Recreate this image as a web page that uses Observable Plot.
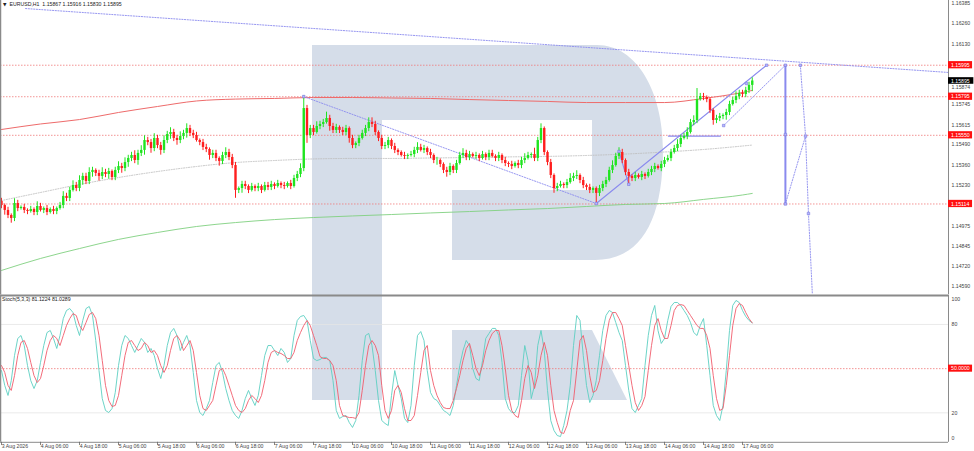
<!DOCTYPE html>
<html><head><meta charset="utf-8">
<script src="https://cdn.jsdelivr.net/npm/d3@7"></script>
<script src="https://cdn.jsdelivr.net/npm/@observablehq/plot@0.6"></script>
<style>
html,body{margin:0;padding:0;background:#fff}
body{width:974px;height:451px;overflow:hidden;position:relative;font-family:"Liberation Sans",Arial,sans-serif}
#logo,#main,#stoch{position:absolute;left:0}
#logo{top:0}
#main{top:0}
#stoch{top:294px}
</style></head><body>
<svg id="logo" width="974" height="451">
<path fill="#d5dde9" d="M312,45 H597 C637,45 663,92 663,150 C663,222 640,260 595,260 H452 V190 H592 V120 H382 V400 H312 Z"/>
<path fill="#d5dde9" d="M452,330 H592 L627,400 H452 Z"/>
</svg>
<div id="main"></div>
<div id="stoch"></div>
<script>
// ---------- DATA ----------
const symbolHeader = "EURUSD,H1  1.15867 1.15916 1.15830 1.15895";
const stochHeader = "Stoch(5,3,3) 81.1224 81.0289";
const firstOpen = 1.15130;
const closes = [
1.15104,1.15073,1.15041,1.15022,1.15117,1.15085,1.15092,1.15073,1.15066,1.15079,1.15060,1.15098,
1.15073,1.15085,1.15060,1.15079,1.15066,1.15085,1.15104,1.15162,1.15149,1.15200,1.15231,1.15212,
1.15263,1.15289,1.15257,1.15314,1.15327,1.15308,1.15289,1.15314,1.15301,1.15320,1.15282,1.15327,
1.15352,1.15339,1.15377,1.15403,1.15422,1.15390,1.15435,1.15454,1.15517,1.15504,1.15466,1.15530,
1.15485,1.15454,1.15517,1.15555,1.15568,1.15530,1.15517,1.15542,1.15562,1.15593,1.15562,1.15549,
1.15517,1.15504,1.15473,1.15460,1.15422,1.15435,1.15403,1.15384,1.15422,1.15441,1.15409,1.15358,
1.15200,1.15212,1.15238,1.15225,1.15200,1.15225,1.15212,1.15225,1.15200,1.15231,1.15219,1.15238,
1.15225,1.15244,1.15231,1.15225,1.15244,1.15225,1.15276,1.15301,1.15339,1.15720,1.15549,1.15593,
1.15568,1.15606,1.15619,1.15631,1.15657,1.15606,1.15581,1.15600,1.15581,1.15568,1.15593,1.15530,
1.15485,1.15498,1.15530,1.15562,1.15593,1.15631,1.15619,1.15568,1.15530,1.15479,1.15485,1.15517,
1.15479,1.15454,1.15441,1.15422,1.15416,1.15422,1.15428,1.15454,1.15473,1.15454,1.15466,1.15441,
1.15422,1.15390,1.15390,1.15365,1.15327,1.15314,1.15352,1.15327,1.15371,1.15422,1.15435,1.15409,
1.15428,1.15416,1.15422,1.15403,1.15428,1.15409,1.15435,1.15416,1.15403,1.15422,1.15390,1.15371,
1.15365,1.15352,1.15371,1.15358,1.15390,1.15403,1.15422,1.15428,1.15403,1.15517,1.15593,1.15441,
1.15377,1.15295,1.15212,1.15225,1.15238,1.15231,1.15250,1.15276,1.15289,1.15295,1.15263,1.15231,
1.15219,1.15200,1.15212,1.15181,1.15212,1.15238,1.15263,1.15327,1.15358,1.15416,1.15441,1.15390,
1.15314,1.15289,1.15276,1.15295,1.15282,1.15301,1.15289,1.15314,1.15333,1.15352,1.15339,1.15365,
1.15390,1.15403,1.15441,1.15466,1.15492,1.15530,1.15542,1.15568,1.15631,1.15644,1.15777,1.15796,
1.15790,1.15777,1.15708,1.15644,1.15657,1.15669,1.15676,1.15695,1.15746,1.15771,1.15796,1.15816,
1.15809,1.15835,1.15867,1.15895];
const upperWickPips = [
2,1,2,1,3,2,1,2,1,2,1,3, 2,1,2,1,2,1,2,3,2,2,3,2, 3,2,2,3,2,1,2,3,2,2,1,2,
3,2,3,2,2,3,2,3,3,2,2,3, 2,2,3,2,3,2,2,3,2,3,2,2, 2,1,2,2,1,2,2,1,2,3,2,2,
2,1,2,2,1,2,1,2,1,2,2,2, 1,2,1,2,1,2,2,2,3,8,2,2, 2,3,2,2,4,2,2,2,1,2,2,1,
2,1,2,2,2,3,3,2,1,2,2,2, 1,2,1,1,2,1,2,2,3,2,2,1, 2,1,2,1,1,2,2,1,2,2,3,2,
2,1,2,1,2,1,2,2,1,2,1,2, 1,2,1,2,2,3,2,1,4,2,3,1, 1,2,1,2,2,1,2,3,2,3,1,2,
1,2,1,1,2,2,2,2,3,2,3,2, 1,2,1,2,1,2,1,2,2,2,1,2, 2,2,2,2,3,2,2,3,2,3,7,2,
2,1,1,1,2,2,1,2,2,2,3,2, 2,2,2,2];
const lowerWickPips = [
2,3,2,3,2,2,1,2,2,1,2,2, 1,2,2,1,2,2,1,2,2,2,1,2, 2,3,2,2,3,2,3,2,2,3,2,2,
2,3,2,3,2,2,3,2,3,2,3,2, 2,3,2,2,3,2,3,2,2,3,2,2, 1,2,2,2,3,2,2,3,2,2,2,2,
5,2,3,2,2,1,2,2,2,1,2,2, 2,1,2,2,1,2,1,2,2,2,5,2, 2,1,2,2,1,3,2,2,2,2,2,3,
2,2,2,1,2,2,2,2,2,2,2,2, 2,2,2,1,2,2,1,2,2,1,2,2, 2,2,3,2,2,3,2,2,2,1,2,2,
2,1,2,2,1,2,2,1,2,2,2,2, 2,2,1,2,2,2,1,2,2,2,2,2, 2,2,3,2,1,2,2,1,2,2,2,2,
2,2,2,6,2,2,2,1,2,1,2,2, 2,5,2,2,1,2,2,1,2,2,1,2, 2,1,2,1,2,2,1,2,1,2,2,1,
2,2,2,3,2,2,2,3,2,1,2,2, 2,2,2,4];
const stochK = [
48.7,38.6,31.8,41.9,58.9,70.5,72.5,65.7,52.1,41.9,36.5,41.9,
54.2,65.7,74.5,75.9,70.5,63.7,72.5,84.0,89.5,90.8,88.1,79.3,
72.5,82.7,90.8,92.2,86.1,69.1,48.7,29.7,21.6,20.2,22.9,33.8,
52.1,65.7,72.5,70.5,65.7,61.0,65.7,70.5,67.8,61.0,63.7,58.9,
50.1,43.3,52.1,65.7,74.5,77.3,72.5,62.3,67.8,72.5,65.7,47.4,
28.4,20.2,18.2,22.9,28.4,40.6,52.1,54.2,47.4,36.5,28.4,21.6,
18.2,16.2,21.6,29.7,35.2,29.7,25.0,31.8,45.3,58.9,65.7,65.7,
62.3,58.9,63.7,61.0,54.2,56.9,72.5,82.7,85.4,86.1,82.7,69.1,
56.9,55.5,56.2,57.6,57.6,55.5,41.9,21.6,16.2,17.5,18.2,13.4,
10.1,14.8,31.8,55.5,72.5,73.9,65.7,48.7,28.4,14.8,12.8,11.4,
31.8,48.7,38.6,29.7,16.2,13.4,25.0,52.1,72.5,75.2,69.1,48.7,
33.8,29.7,28.4,25.0,21.6,20.2,18.2,25.0,38.6,52.1,62.3,69.1,
65.7,50.1,43.3,41.9,55.5,70.5,73.9,77.3,77.3,72.5,54.2,29.7,
22.9,20.2,20.2,25.0,45.3,65.7,55.5,29.7,38.6,65.7,75.9,62.3,
35.2,14.8,8.0,4.6,3.9,11.4,21.6,38.6,65.7,86.1,82.7,58.9,
38.6,27.0,31.8,41.9,58.9,75.9,86.1,89.5,88.1,81.3,74.5,69.1,
52.1,35.2,22.9,20.2,25.0,29.7,52.1,72.5,86.1,92.9,75.9,67.1,
70.5,82.7,92.2,94.9,94.9,92.9,89.5,86.1,81.3,74.5,72.5,79.3,
84.0,65.7,45.3,25.0,18.2,14.8,25.0,48.7,75.9,92.9,96.3,94.9,
89.5,85.4,82.7,81.1224];
const stochD = [
52.1,47.4,38.6,35.2,45.3,58.9,67.8,69.1,63.7,54.2,45.3,40.6,
43.3,52.1,62.3,69.1,72.5,70.5,65.7,72.5,79.3,84.0,87.4,86.1,
79.3,75.9,81.3,86.8,88.1,84.0,72.5,55.5,38.6,28.4,24.3,25.0,
31.8,45.3,58.9,67.8,69.1,65.7,62.3,63.7,67.8,65.7,61.0,62.3,
58.9,52.1,47.4,52.1,62.3,70.5,72.5,69.1,62.3,65.7,69.1,62.3,
47.4,31.8,22.9,21.6,25.0,28.4,38.6,48.7,50.1,45.3,38.6,31.8,
25.0,21.6,20.2,22.9,28.4,31.8,29.7,27.0,31.8,41.9,54.2,61.0,
62.3,61.0,60.3,58.9,56.9,56.9,61.0,69.1,74.5,79.3,82.7,79.3,
72.5,65.7,58.2,56.9,56.9,55.5,52.1,41.9,25.0,18.2,17.5,16.8,
16.8,16.2,20.2,35.2,52.1,65.7,69.1,65.7,58.9,38.6,21.6,16.2,
21.6,35.2,38.6,33.8,22.9,14.8,14.8,18.2,31.8,47.4,62.3,65.7,
48.7,38.6,31.8,27.0,23.6,22.9,22.9,28.4,36.5,45.3,55.5,63.7,
67.1,58.9,50.1,45.3,52.1,62.3,69.1,73.9,75.9,75.9,65.7,50.1,
31.8,21.6,18.2,16.8,28.4,43.3,52.1,47.4,36.5,45.3,58.9,67.8,
58.9,38.6,21.6,13.4,6.7,6.0,11.4,21.6,28.4,48.7,69.1,72.5,
62.3,45.3,33.8,35.2,41.9,55.5,70.5,82.7,88.1,88.1,84.0,79.3,
65.7,52.1,38.6,27.0,21.6,25.0,31.1,48.7,65.7,79.3,84.0,75.9,
70.5,70.5,79.3,89.5,92.9,93.5,92.9,89.5,86.1,82.7,79.3,77.3,
77.3,72.5,63.7,45.3,29.7,21.6,22.9,38.6,58.9,79.3,90.8,94.2,
92.9,88.1,84.0,81.0289];
const timeLabels = ["3 Aug 2026","4 Aug 06:00","4 Aug 18:00","5 Aug 06:00","5 Aug 18:00","6 Aug 06:00","6 Aug 18:00","7 Aug 06:00","7 Aug 18:00","10 Aug 06:00","10 Aug 18:00","11 Aug 06:00","11 Aug 18:00","12 Aug 06:00","12 Aug 18:00","13 Aug 06:00","13 Aug 18:00","14 Aug 06:00","14 Aug 18:00","17 Aug 06:00"];
const barsPerLabel = 12;
const priceTicks = [1.16385,1.16260,1.16130,1.15745,1.15615,1.15490,1.15360,1.15230,1.14975,1.14845,1.14720,1.14590];
const priceTickUnderLabel = [1.15874];
const levels = [1.15995,1.15795,1.15550,1.15114];
const lastPrice = 1.15895;
const maIndex = [0,12,24,36,48,60,72,84,96,108,120,132,144,156,168,180,192,204,216,228,231];
const maRed = [1.15587,1.15622,1.15650,1.15695,1.15733,1.15768,1.15780,1.15784,1.15790,1.15790,1.15787,1.15784,1.15777,1.15771,1.15765,1.15758,1.15758,1.15758,1.15784,1.15822,1.15835];
const maGrey = [1.15136,1.15187,1.15238,1.15282,1.15320,1.15352,1.15377,1.15390,1.15400,1.15403,1.15403,1.15406,1.15409,1.15413,1.15416,1.15422,1.15431,1.15444,1.15460,1.15482,1.15488];
const maGreen = [1.14692,1.14768,1.14831,1.14889,1.14933,1.14971,1.14996,1.15015,1.15028,1.15038,1.15047,1.15057,1.15066,1.15076,1.15085,1.15098,1.15111,1.15117,1.15143,1.15171,1.15181];
// drawn analysis objects: [bar index, price]
const lineLongDotted = [[7.4,1.16355],[291.38,1.15949]];
const lineDownDotted = [[93,1.15796],[183,1.15117]];
const lineUpSolid = [[183,1.15117],[235.4,1.15995]];
const lineZig = [[190,1.15447],[193,1.15239]];
const lineChannel = [[222.2,1.15612],[241.2,1.15995]];
const lineVertical = [[241.2,1.15995],[241.2,1.15114]];
const lineForecastA = [[245.8,1.15995],[247.4,1.15545],[248.3,1.15053],[249.5,1.14540]];
const lineForecastB = [[241.2,1.15114],[247.4,1.15545]];
const lineFlat = [[205.2,1.15545],[221.2,1.15545]];
const anchorPoints = [[93,1.15796],[183,1.15117],[190,1.15447],[193,1.15239],[222.2,1.15612],[229.2,1.15879],[235.4,1.15995],[241.2,1.15995],[241.2,1.15555],[241.2,1.15114],[245.8,1.15995],[247.4,1.15545],[248.3,1.15053]];
const stochLevels = [80,20];
const stochMid = 50;
const stochAxis = [{v:96.9,t:"100"},{v:80,t:"80"},{v:20,t:"20"},{v:2.8,t:"0"}];

// ---------- BUILD ----------
const candles = closes.map((c,i)=>{
  const o = i===0 ? firstOpen : closes[i-1];
  return {i, open:o, close:c,
    high: Math.max(o,c)+upperWickPips[i]*1e-4,
    low: Math.min(o,c)-lowerWickPips[i]*1e-4};
});
const UP="#1fe41f", DOWN="#ff1e1e";
const col = d => d.close >= d.open ? UP : DOWN;
const xEnd = 947/3.25, xStart = -1/3.25;
const xDom = [xStart, xEnd];
const font = "Liberation Sans";
const pts = a => a.map(([i,p])=>({i,p}));
const BLUE = "#8a8aee";
const ma = arr => maIndex.map((i,k)=>({i, p:arr[k]}));

const main = Plot.plot({
  width:974, height:294, marginLeft:0, marginRight:26, marginTop:0, marginBottom:0,
  style:{background:"transparent", overflow:"visible"},
  x:{domain:xDom, axis:null}, y:{domain:[1.145392,1.16406], axis:null},
  color:{type:"identity"},
  marks:[
    Plot.ruleY(levels, {y:d=>d, stroke:"#f07878", strokeWidth:0.8, strokeDasharray:"1.5,1.5"}),
    Plot.line(ma(maGreen), {x:"i", y:"p", stroke:"#80d080", strokeWidth:0.9, curve:"monotone-x"}),
    Plot.line(ma(maGrey), {x:"i", y:"p", stroke:"#bdbdbd", strokeWidth:0.9, strokeDasharray:"1,1.5", curve:"monotone-x"}),
    Plot.line(ma(maRed), {x:"i", y:"p", stroke:"#ee6b6b", strokeWidth:1, curve:"monotone-x"}),
    Plot.line(pts(lineLongDotted), {x:"i", y:"p", stroke:BLUE, strokeWidth:0.9, strokeDasharray:"1.2,1.5"}),
    Plot.line(pts(lineDownDotted), {x:"i", y:"p", stroke:BLUE, strokeWidth:0.9, strokeDasharray:"1.2,1.5"}),
    Plot.line(pts(lineChannel), {x:"i", y:"p", stroke:BLUE, strokeWidth:0.9, strokeDasharray:"1.2,1.5"}),
    Plot.line(pts(lineForecastA), {x:"i", y:"p", stroke:BLUE, strokeWidth:0.9, strokeDasharray:"1.2,1.5"}),
    Plot.line(pts(lineForecastB), {x:"i", y:"p", stroke:BLUE, strokeWidth:0.9, strokeDasharray:"1.2,1.5"}),
    Plot.line(pts(lineUpSolid), {x:"i", y:"p", stroke:BLUE, strokeWidth:1.1}),
    Plot.line(pts(lineZig), {x:"i", y:"p", stroke:BLUE, strokeWidth:1.1}),
    Plot.line(pts(lineFlat), {x:"i", y:"p", stroke:BLUE, strokeWidth:1.2}),
    Plot.line(pts(lineVertical), {x:"i", y:"p", stroke:BLUE, strokeWidth:2}),
    Plot.ruleX(candles, {x:"i", y1:"low", y2:"high", stroke:col, strokeWidth:1}),
    Plot.ruleX(candles, {x:"i", y1:"open", y2:"close", stroke:col, strokeWidth:2.4}),
    Plot.dot(pts(anchorPoints), {x:"i", y:"p", symbol:"square", r:1.4, fill:"#b8b8ff", stroke:"#7777dd", strokeWidth:0.6}),
    Plot.ruleX([xStart], {x:d=>d, stroke:"#8a8a8a", strokeWidth:1.5}),
    Plot.ruleX([xEnd], {x:d=>d, stroke:"#8a8a8a", strokeWidth:1}),
    Plot.text(priceTicks, {x:()=>xEnd, y:d=>d, text:d=>d.toFixed(5), dx:3, textAnchor:"start", fontSize:5.2, fill:"#444", fontFamily:font}),
    Plot.text(priceTickUnderLabel, {x:()=>xEnd, y:d=>d, text:d=>d.toFixed(5), dx:3, dy:3.4, textAnchor:"start", fontSize:5.2, fill:"#444", fontFamily:font}),
    Plot.rect(levels, {x1:()=>xEnd, x2:()=>xEnd+7.4, y1:d=>d-0.00023, y2:d=>d+0.00023, fill:"#ff1010"}),
    Plot.text(levels, {x:()=>xEnd, y:d=>d, text:d=>d.toFixed(5), dx:2.5, textAnchor:"start", fontSize:5.2, fill:"#fff", fontFamily:font}),
    Plot.rect([lastPrice], {x1:()=>xEnd, x2:()=>xEnd+7.8, y1:d=>d-0.00021, y2:d=>d+0.00021, fill:"#000"}),
    Plot.text([lastPrice], {x:()=>xEnd, y:d=>d, text:d=>d.toFixed(5), dx:2.5, textAnchor:"start", fontSize:5.2, fill:"#fff", fontFamily:font}),
    Plot.text(["▼"], {frameAnchor:"top-left", dx:2.5, dy:2.2, fontSize:4.5, fill:"#222", fontFamily:"DejaVu Sans"}),
    Plot.text([symbolHeader], {frameAnchor:"top-left", dx:9, dy:1.8, fontSize:5.2, fill:"#222", fontFamily:font})
  ]
});
document.getElementById("main").appendChild(main);

const kData = stochK.map((v,i)=>({i,v}));
const dData = stochD.map((v,i)=>({i,v}));
const stoch = Plot.plot({
  width:974, height:157, marginLeft:0, marginRight:26, marginTop:0.5, marginBottom:9.2,
  style:{background:"transparent", overflow:"visible"},
  x:{domain:xDom, axis:null}, y:{domain:[0,100], axis:null},
  marks:[
    Plot.ruleY(stochLevels, {y:d=>d, stroke:"#e4e4e4", strokeWidth:0.8}),
    Plot.ruleY([stochMid], {y:d=>d, stroke:"#f07878", strokeWidth:0.8, strokeDasharray:"1.5,1.5"}),
    Plot.line(kData, {x:"i", y:"v", stroke:"#5ccfc2", strokeWidth:0.9}),
    Plot.line(dData, {x:"i", y:"v", stroke:"#f05c6c", strokeWidth:0.9}),
    Plot.ruleY([99.7], {y:d=>d, stroke:"#8a8a8a", strokeWidth:2}),
    Plot.ruleY([0], {y:d=>d, stroke:"#8a8a8a", strokeWidth:1}),
    Plot.ruleX([xStart], {x:d=>d, y1:0, y2:100, stroke:"#8a8a8a", strokeWidth:1.5}),
    Plot.ruleX([xEnd], {x:d=>d, y1:0, y2:100, stroke:"#8a8a8a", strokeWidth:1}),
    Plot.ruleX(timeLabels, {x:(d,k)=>k*barsPerLabel, y1:()=>0, y2:()=>-2.2, stroke:"#666", strokeWidth:0.8}),
    Plot.text(timeLabels, {x:(d,k)=>k*barsPerLabel, y:()=>0, text:d=>d, dy:4.3, dx:0.3, textAnchor:"start", fontSize:5.2, fill:"#444", fontFamily:font}),
    Plot.text(stochAxis, {x:()=>xEnd, y:"v", text:"t", dx:3, textAnchor:"start", fontSize:5.2, fill:"#444", fontFamily:font}),
    Plot.rect([stochMid], {x1:()=>xEnd, x2:()=>xEnd+7.4, y1:d=>d-2.4, y2:d=>d+2.4, fill:"#ff1010"}),
    Plot.text([stochMid], {x:()=>xEnd, y:d=>d, text:d=>d.toFixed(4), dx:2.5, textAnchor:"start", fontSize:5.2, fill:"#fff", fontFamily:font}),
    Plot.text([stochHeader], {frameAnchor:"top-left", dx:1.5, dy:2.4, fontSize:5.2, fill:"#222", fontFamily:font})
  ]
});
document.getElementById("stoch").appendChild(stoch);
</script>
</body></html>
